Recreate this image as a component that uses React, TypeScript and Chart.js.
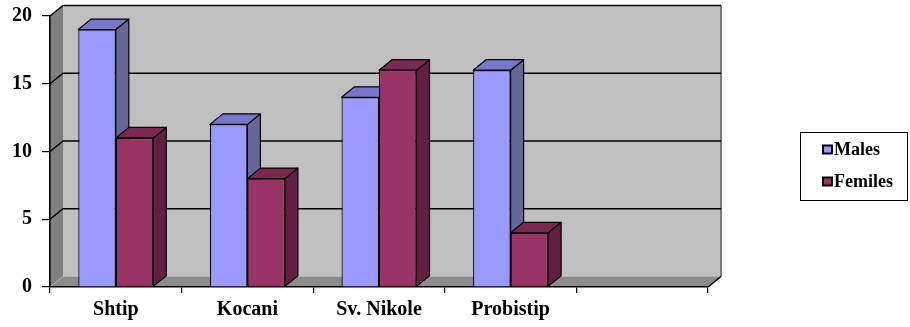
import React, { useEffect, useRef } from "react";
import { Chart, registerables } from "chart.js";

Chart.register(...registerables);

const categories = ["Shtip", "Kocani", "Sv. Nikole", "Probistip", ""];
const males = [19, 12, 14, 16, null];
const femiles = [11, 8, 16, 4, null];
const seriesNames = ["Males", "Femiles"];
const yTicks = { min: 0, max: 20, step: 5 };

const FONT = "'Liberation Serif', 'Times New Roman', serif";

// Colours for each series: front face, top face, side face
const palette = [
  { front: "#9999FF", top: "#7777CC", side: "#666699" },
  { front: "#993366", top: "#7A2952", side: "#631F42" },
];

// Depth offset of the 3D box
const DX = 13;
const DY = -10.5;

function poly(ctx: CanvasRenderingContext2D, pts: number[][]) {
  ctx.beginPath();
  ctx.moveTo(pts[0][0], pts[0][1]);
  for (let i = 1; i < pts.length; i++) ctx.lineTo(pts[i][0], pts[i][1]);
  ctx.closePath();
}

const wallsPlugin = {
  id: "walls3d",
  beforeDraw(chart: any) {
    const { ctx, chartArea, scales } = chart;
    const { left, right, top, bottom } = chartArea;
    const y = scales.y;
    ctx.save();
    // left side wall
    ctx.fillStyle = "#808080";
    poly(ctx, [[left, top], [left + DX, top + DY], [left + DX, bottom + DY], [left, bottom]]);
    ctx.fill();
    // back wall
    ctx.fillStyle = "#C0C0C0";
    ctx.fillRect(left + DX, top + DY, right - left, bottom - top);
    // floor
    ctx.fillStyle = "#8C8C8C";
    poly(ctx, [[left, bottom], [left + DX, bottom + DY], [right + DX, bottom + DY], [right, bottom]]);
    ctx.fill();
    // right edge of back wall
    ctx.strokeStyle = "#7A7A7A";
    ctx.lineWidth = 2;
    ctx.beginPath();
    ctx.moveTo(right + DX, top + DY);
    ctx.lineTo(right + DX, bottom + DY);
    ctx.stroke();
    // floor/left wall corner
    ctx.strokeStyle = "#A8A8A8";
    ctx.lineWidth = 1;
    ctx.beginPath();
    ctx.moveTo(left, bottom);
    ctx.lineTo(left + DX, bottom + DY);
    ctx.stroke();
    // grid lines across the side wall and back wall
    ctx.strokeStyle = "#000";
    ctx.lineWidth = 1.6;
    for (let v = yTicks.min + yTicks.step; v <= yTicks.max; v += yTicks.step) {
      const py = y.getPixelForValue(v);
      ctx.beginPath();
      ctx.moveTo(left, py);
      ctx.lineTo(left + DX, py + DY);
      ctx.lineTo(right + DX, py + DY);
      ctx.stroke();
    }
    // floor right edge
    ctx.beginPath();
    ctx.moveTo(right, bottom);
    ctx.lineTo(right + DX, bottom + DY);
    ctx.stroke();
    ctx.restore();
  },
  beforeDatasetsDraw(chart: any) {
    const { ctx } = chart;
    ctx.save();
    ctx.strokeStyle = "#000";
    ctx.lineWidth = 1.2;
    ctx.lineJoin = "round";
    const n = chart.data.labels.length;
    for (let i = 0; i < n; i++) {
      chart.data.datasets.forEach((ds: any, d: number) => {
        const v = ds.data[i];
        if (v === null || v === undefined) return;
        const el = chart.getDatasetMeta(d).data[i] as any;
        if (!el || !isFinite(el.y)) return;
        const x0 = el.x - el.width / 2;
        const x1 = el.x + el.width / 2;
        const yt = el.y;
        const yb = el.base;
        // side face
        ctx.fillStyle = palette[d].side;
        poly(ctx, [[x1, yt], [x1 + DX, yt + DY], [x1 + DX, yb + DY], [x1, yb]]);
        ctx.fill();
        ctx.stroke();
        // top face
        ctx.fillStyle = palette[d].top;
        poly(ctx, [[x0, yt], [x0 + DX, yt + DY], [x1 + DX, yt + DY], [x1, yt]]);
        ctx.fill();
        ctx.stroke();
      });
    }
    ctx.restore();
  },
  afterDraw(chart: any) {
    const { ctx } = chart;
    ctx.save();
    // legend box
    ctx.strokeStyle = "#000";
    ctx.lineWidth = 1;
    ctx.strokeRect(800.5, 132.5, 107, 68);
    const rows = [149.5, 181.5];
    ctx.font = `bold 18px ${FONT}`;
    ctx.textBaseline = "middle";
    ctx.textAlign = "left";
    chart.data.datasets.forEach((ds: any, d: number) => {
      const cy = rows[d];
      ctx.fillStyle = palette[d].front;
      ctx.fillRect(823, cy - 4, 9, 8);
      ctx.lineWidth = 2;
      ctx.strokeStyle = "#000";
      ctx.strokeRect(823, cy - 4, 9, 8);
      ctx.fillStyle = "#000";
      ctx.fillText(ds.label, 834, cy + 1);
    });
    ctx.restore();
  },
};

export default function App() {
  const ref = useRef<HTMLCanvasElement | null>(null);

  useEffect(() => {
    if (!ref.current) return;
    const chart = new Chart(ref.current, {
      type: "bar",
      data: {
        labels: categories,
        datasets: [
          {
            label: seriesNames[0],
            data: males,
            backgroundColor: palette[0].front,
            borderColor: "#000",
            borderWidth: 1.2,
          },
          {
            label: seriesNames[1],
            data: femiles,
            backgroundColor: palette[1].front,
            borderColor: "#000",
            borderWidth: 1.2,
          },
        ],
      },
      options: {
        responsive: false,
        animation: false,
        events: [],
        layout: { padding: { top: 16, right: 202, left: 0, bottom: 0 } },
        datasets: {
          bar: { categoryPercentage: 0.57, barPercentage: 1 },
        },
        plugins: {
          legend: { display: false },
          tooltip: { enabled: false },
        },
        scales: {
          x: {
            afterFit: (s: any) => {
              s.height = 40;
              s.paddingLeft = 0;
              s.paddingRight = 0;
            },
            grid: {
              drawOnChartArea: false,
              offset: true,
              tickLength: 6,
              color: "#000",
              lineWidth: 1.2,
            },
            border: { display: true, color: "#000", width: 1.6 },
            ticks: {
              color: "#000",
              padding: 5,
              maxRotation: 0,
              autoSkip: false,
              font: { family: FONT, size: 20, weight: "bold" },
            },
          },
          y: {
            min: yTicks.min,
            max: yTicks.max,
            afterFit: (s: any) => {
              s.width = 50;
              s.paddingTop = 0;
              s.paddingBottom = 0;
            },
            grid: {
              drawOnChartArea: false,
              tickLength: 8,
              color: "#000",
              lineWidth: 1.2,
            },
            border: { display: true, color: "#000", width: 1.6 },
            ticks: {
              stepSize: yTicks.step,
              color: "#000",
              padding: 10,
              font: { family: FONT, size: 20, weight: "bold" },
            },
          },
        },
      },
      plugins: [wallsPlugin],
    } as any);
    return () => chart.destroy();
  }, []);

  return (
    <div style={{ position: "absolute", left: 0, top: 0, width: 910, height: 327, background: "#fff" }}>
      <canvas ref={ref} width={910} height={327} />
    </div>
  );
}
